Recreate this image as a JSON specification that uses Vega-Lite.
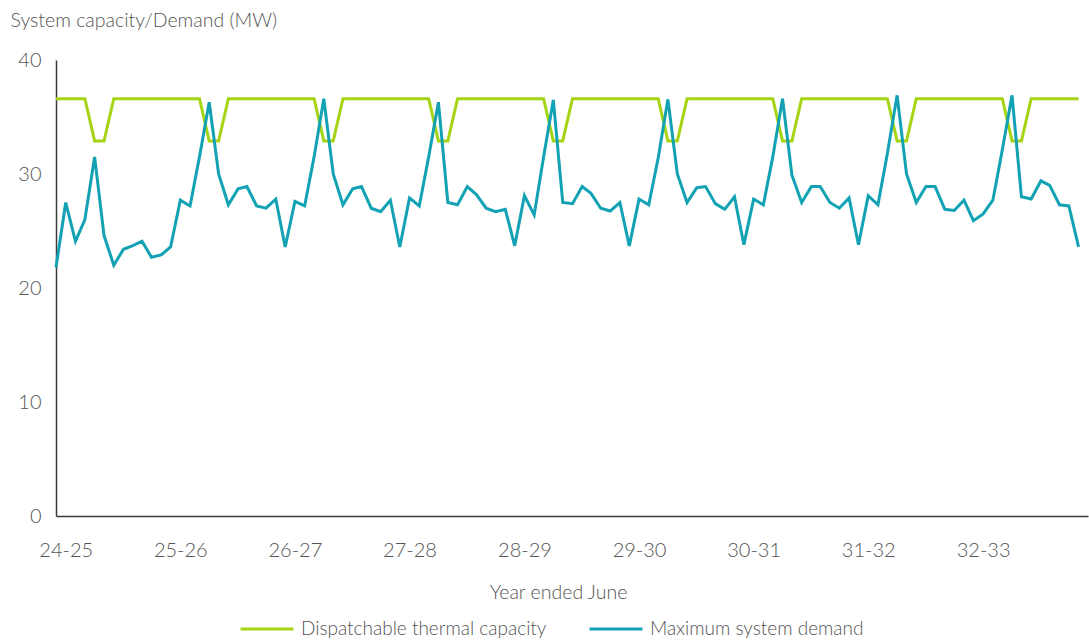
{
  "$schema": "https://vega.github.io/schema/vega-lite/v6.json",
  "width": 1032,
  "height": 456,
  "autosize": {"type": "none"},
  "padding": {"left": 56, "top": 60, "right": 1, "bottom": 125},
  "background": "white",
  "config": {
    "font": "Lato",
    "view": {"stroke": null},
    "axis": {
      "grid": false,
      "ticks": false,
      "domainColor": "#3a3a3a",
      "domainWidth": 1.5,
      "labelFont": "Lato",
      "labelFontSize": 20,
      "labelFontWeight": 300,
      "labelColor": "#555555",
      "titleFont": "Lato",
      "titleFontSize": 19.5,
      "titleFontWeight": 300,
      "titleColor": "#555555"
    },
    "legend": {
      "labelFont": "Lato",
      "labelFontSize": 19,
      "labelFontWeight": 300,
      "labelColor": "#555555"
    }
  },
  "data": {
    "values": [
      {"month": "2024-07-01", "Dispatchable thermal capacity": 36.6, "Maximum system demand": 21.8},
      {"month": "2024-08-01", "Dispatchable thermal capacity": 36.6, "Maximum system demand": 27.5},
      {"month": "2024-09-01", "Dispatchable thermal capacity": 36.6, "Maximum system demand": 24.1},
      {"month": "2024-10-01", "Dispatchable thermal capacity": 36.6, "Maximum system demand": 26.0},
      {"month": "2024-11-01", "Dispatchable thermal capacity": 32.9, "Maximum system demand": 31.5},
      {"month": "2024-12-01", "Dispatchable thermal capacity": 32.9, "Maximum system demand": 24.6},
      {"month": "2025-01-01", "Dispatchable thermal capacity": 36.6, "Maximum system demand": 22.0},
      {"month": "2025-02-01", "Dispatchable thermal capacity": 36.6, "Maximum system demand": 23.4},
      {"month": "2025-03-01", "Dispatchable thermal capacity": 36.6, "Maximum system demand": 23.7},
      {"month": "2025-04-01", "Dispatchable thermal capacity": 36.6, "Maximum system demand": 24.1},
      {"month": "2025-05-01", "Dispatchable thermal capacity": 36.6, "Maximum system demand": 22.7},
      {"month": "2025-06-01", "Dispatchable thermal capacity": 36.6, "Maximum system demand": 22.9},
      {"month": "2025-07-01", "Dispatchable thermal capacity": 36.6, "Maximum system demand": 23.6},
      {"month": "2025-08-01", "Dispatchable thermal capacity": 36.6, "Maximum system demand": 27.7},
      {"month": "2025-09-01", "Dispatchable thermal capacity": 36.6, "Maximum system demand": 27.2},
      {"month": "2025-10-01", "Dispatchable thermal capacity": 36.6, "Maximum system demand": 31.5},
      {"month": "2025-11-01", "Dispatchable thermal capacity": 32.9, "Maximum system demand": 36.3},
      {"month": "2025-12-01", "Dispatchable thermal capacity": 32.9, "Maximum system demand": 30.0},
      {"month": "2026-01-01", "Dispatchable thermal capacity": 36.6, "Maximum system demand": 27.3},
      {"month": "2026-02-01", "Dispatchable thermal capacity": 36.6, "Maximum system demand": 28.7},
      {"month": "2026-03-01", "Dispatchable thermal capacity": 36.6, "Maximum system demand": 28.9},
      {"month": "2026-04-01", "Dispatchable thermal capacity": 36.6, "Maximum system demand": 27.2},
      {"month": "2026-05-01", "Dispatchable thermal capacity": 36.6, "Maximum system demand": 27.0},
      {"month": "2026-06-01", "Dispatchable thermal capacity": 36.6, "Maximum system demand": 27.8},
      {"month": "2026-07-01", "Dispatchable thermal capacity": 36.6, "Maximum system demand": 23.6},
      {"month": "2026-08-01", "Dispatchable thermal capacity": 36.6, "Maximum system demand": 27.6},
      {"month": "2026-09-01", "Dispatchable thermal capacity": 36.6, "Maximum system demand": 27.2},
      {"month": "2026-10-01", "Dispatchable thermal capacity": 36.6, "Maximum system demand": 31.5},
      {"month": "2026-11-01", "Dispatchable thermal capacity": 32.9, "Maximum system demand": 36.6},
      {"month": "2026-12-01", "Dispatchable thermal capacity": 32.9, "Maximum system demand": 30.0},
      {"month": "2027-01-01", "Dispatchable thermal capacity": 36.6, "Maximum system demand": 27.3},
      {"month": "2027-02-01", "Dispatchable thermal capacity": 36.6, "Maximum system demand": 28.7},
      {"month": "2027-03-01", "Dispatchable thermal capacity": 36.6, "Maximum system demand": 28.9},
      {"month": "2027-04-01", "Dispatchable thermal capacity": 36.6, "Maximum system demand": 27.0},
      {"month": "2027-05-01", "Dispatchable thermal capacity": 36.6, "Maximum system demand": 26.7},
      {"month": "2027-06-01", "Dispatchable thermal capacity": 36.6, "Maximum system demand": 27.7},
      {"month": "2027-07-01", "Dispatchable thermal capacity": 36.6, "Maximum system demand": 23.6},
      {"month": "2027-08-01", "Dispatchable thermal capacity": 36.6, "Maximum system demand": 27.9},
      {"month": "2027-09-01", "Dispatchable thermal capacity": 36.6, "Maximum system demand": 27.2},
      {"month": "2027-10-01", "Dispatchable thermal capacity": 36.6, "Maximum system demand": 31.5},
      {"month": "2027-11-01", "Dispatchable thermal capacity": 32.9, "Maximum system demand": 36.3},
      {"month": "2027-12-01", "Dispatchable thermal capacity": 32.9, "Maximum system demand": 27.5},
      {"month": "2028-01-01", "Dispatchable thermal capacity": 36.6, "Maximum system demand": 27.3},
      {"month": "2028-02-01", "Dispatchable thermal capacity": 36.6, "Maximum system demand": 28.9},
      {"month": "2028-03-01", "Dispatchable thermal capacity": 36.6, "Maximum system demand": 28.2},
      {"month": "2028-04-01", "Dispatchable thermal capacity": 36.6, "Maximum system demand": 27.0},
      {"month": "2028-05-01", "Dispatchable thermal capacity": 36.6, "Maximum system demand": 26.7},
      {"month": "2028-06-01", "Dispatchable thermal capacity": 36.6, "Maximum system demand": 26.9},
      {"month": "2028-07-01", "Dispatchable thermal capacity": 36.6, "Maximum system demand": 23.7},
      {"month": "2028-08-01", "Dispatchable thermal capacity": 36.6, "Maximum system demand": 28.1},
      {"month": "2028-09-01", "Dispatchable thermal capacity": 36.6, "Maximum system demand": 26.4},
      {"month": "2028-10-01", "Dispatchable thermal capacity": 36.6, "Maximum system demand": 31.5},
      {"month": "2028-11-01", "Dispatchable thermal capacity": 32.9, "Maximum system demand": 36.5},
      {"month": "2028-12-01", "Dispatchable thermal capacity": 32.9, "Maximum system demand": 27.5},
      {"month": "2029-01-01", "Dispatchable thermal capacity": 36.6, "Maximum system demand": 27.4},
      {"month": "2029-02-01", "Dispatchable thermal capacity": 36.6, "Maximum system demand": 28.9},
      {"month": "2029-03-01", "Dispatchable thermal capacity": 36.6, "Maximum system demand": 28.3},
      {"month": "2029-04-01", "Dispatchable thermal capacity": 36.6, "Maximum system demand": 27.0},
      {"month": "2029-05-01", "Dispatchable thermal capacity": 36.6, "Maximum system demand": 26.75},
      {"month": "2029-06-01", "Dispatchable thermal capacity": 36.6, "Maximum system demand": 27.5},
      {"month": "2029-07-01", "Dispatchable thermal capacity": 36.6, "Maximum system demand": 23.7},
      {"month": "2029-08-01", "Dispatchable thermal capacity": 36.6, "Maximum system demand": 27.8},
      {"month": "2029-09-01", "Dispatchable thermal capacity": 36.6, "Maximum system demand": 27.3},
      {"month": "2029-10-01", "Dispatchable thermal capacity": 36.6, "Maximum system demand": 31.4},
      {"month": "2029-11-01", "Dispatchable thermal capacity": 32.9, "Maximum system demand": 36.55},
      {"month": "2029-12-01", "Dispatchable thermal capacity": 32.9, "Maximum system demand": 30.0},
      {"month": "2030-01-01", "Dispatchable thermal capacity": 36.6, "Maximum system demand": 27.5},
      {"month": "2030-02-01", "Dispatchable thermal capacity": 36.6, "Maximum system demand": 28.8},
      {"month": "2030-03-01", "Dispatchable thermal capacity": 36.6, "Maximum system demand": 28.9},
      {"month": "2030-04-01", "Dispatchable thermal capacity": 36.6, "Maximum system demand": 27.4},
      {"month": "2030-05-01", "Dispatchable thermal capacity": 36.6, "Maximum system demand": 26.9},
      {"month": "2030-06-01", "Dispatchable thermal capacity": 36.6, "Maximum system demand": 28.0},
      {"month": "2030-07-01", "Dispatchable thermal capacity": 36.6, "Maximum system demand": 23.8},
      {"month": "2030-08-01", "Dispatchable thermal capacity": 36.6, "Maximum system demand": 27.8},
      {"month": "2030-09-01", "Dispatchable thermal capacity": 36.6, "Maximum system demand": 27.3},
      {"month": "2030-10-01", "Dispatchable thermal capacity": 36.6, "Maximum system demand": 31.5},
      {"month": "2030-11-01", "Dispatchable thermal capacity": 32.9, "Maximum system demand": 36.6},
      {"month": "2030-12-01", "Dispatchable thermal capacity": 32.9, "Maximum system demand": 29.9},
      {"month": "2031-01-01", "Dispatchable thermal capacity": 36.6, "Maximum system demand": 27.5},
      {"month": "2031-02-01", "Dispatchable thermal capacity": 36.6, "Maximum system demand": 28.9},
      {"month": "2031-03-01", "Dispatchable thermal capacity": 36.6, "Maximum system demand": 28.9},
      {"month": "2031-04-01", "Dispatchable thermal capacity": 36.6, "Maximum system demand": 27.5},
      {"month": "2031-05-01", "Dispatchable thermal capacity": 36.6, "Maximum system demand": 27.0},
      {"month": "2031-06-01", "Dispatchable thermal capacity": 36.6, "Maximum system demand": 27.9},
      {"month": "2031-07-01", "Dispatchable thermal capacity": 36.6, "Maximum system demand": 23.8},
      {"month": "2031-08-01", "Dispatchable thermal capacity": 36.6, "Maximum system demand": 28.1},
      {"month": "2031-09-01", "Dispatchable thermal capacity": 36.6, "Maximum system demand": 27.3},
      {"month": "2031-10-01", "Dispatchable thermal capacity": 36.6, "Maximum system demand": 31.8},
      {"month": "2031-11-01", "Dispatchable thermal capacity": 32.9, "Maximum system demand": 36.9},
      {"month": "2031-12-01", "Dispatchable thermal capacity": 32.9, "Maximum system demand": 30.0},
      {"month": "2032-01-01", "Dispatchable thermal capacity": 36.6, "Maximum system demand": 27.5},
      {"month": "2032-02-01", "Dispatchable thermal capacity": 36.6, "Maximum system demand": 28.9},
      {"month": "2032-03-01", "Dispatchable thermal capacity": 36.6, "Maximum system demand": 28.9},
      {"month": "2032-04-01", "Dispatchable thermal capacity": 36.6, "Maximum system demand": 26.9},
      {"month": "2032-05-01", "Dispatchable thermal capacity": 36.6, "Maximum system demand": 26.8},
      {"month": "2032-06-01", "Dispatchable thermal capacity": 36.6, "Maximum system demand": 27.7},
      {"month": "2032-07-01", "Dispatchable thermal capacity": 36.6, "Maximum system demand": 25.9},
      {"month": "2032-08-01", "Dispatchable thermal capacity": 36.6, "Maximum system demand": 26.5},
      {"month": "2032-09-01", "Dispatchable thermal capacity": 36.6, "Maximum system demand": 27.7},
      {"month": "2032-10-01", "Dispatchable thermal capacity": 36.6, "Maximum system demand": 32.1},
      {"month": "2032-11-01", "Dispatchable thermal capacity": 32.9, "Maximum system demand": 36.9},
      {"month": "2032-12-01", "Dispatchable thermal capacity": 32.9, "Maximum system demand": 28.0},
      {"month": "2033-01-01", "Dispatchable thermal capacity": 36.6, "Maximum system demand": 27.8},
      {"month": "2033-02-01", "Dispatchable thermal capacity": 36.6, "Maximum system demand": 29.4},
      {"month": "2033-03-01", "Dispatchable thermal capacity": 36.6, "Maximum system demand": 29.0},
      {"month": "2033-04-01", "Dispatchable thermal capacity": 36.6, "Maximum system demand": 27.3},
      {"month": "2033-05-01", "Dispatchable thermal capacity": 36.6, "Maximum system demand": 27.2},
      {"month": "2033-06-01", "Dispatchable thermal capacity": 36.6, "Maximum system demand": 23.6}
    ]
  },
  "transform": [
    {"fold": ["Dispatchable thermal capacity", "Maximum system demand"], "as": ["series", "value"]}
  ],
  "mark": {"type": "line", "strokeWidth": 3},
  "encoding": {
    "x": {
      "field": "month",
      "type": "temporal",
      "scale": {
        "type": "utc",
        "domain": [
          {"year": 2024, "month": 7, "date": 1, "utc": true},
          {"year": 2033, "month": 7, "date": 1, "utc": true}
        ]
      },
      "axis": {
        "title": "Year ended June",
        "values": [
          {"year": 2024, "month": 8, "date": 1, "utc": true},
          {"year": 2025, "month": 8, "date": 1, "utc": true},
          {"year": 2026, "month": 8, "date": 1, "utc": true},
          {"year": 2027, "month": 8, "date": 1, "utc": true},
          {"year": 2028, "month": 8, "date": 1, "utc": true},
          {"year": 2029, "month": 8, "date": 1, "utc": true},
          {"year": 2030, "month": 8, "date": 1, "utc": true},
          {"year": 2031, "month": 8, "date": 1, "utc": true},
          {"year": 2032, "month": 8, "date": 1, "utc": true}
        ],
        "labelExpr": "(utcyear(datum.value) % 100) + '-' + (utcyear(datum.value) % 100 + 1)",
        "labelPadding": 24,
        "labelFlush": false,
        "labelOverlap": false,
        "titleX": 502,
        "titleY": 82,
        "titleAlign": "center",
        "titleBaseline": "alphabetic"
      }
    },
    "y": {
      "field": "value",
      "type": "quantitative",
      "scale": {"domain": [0, 40]},
      "axis": {
        "title": "System capacity/Demand (MW)",
        "values": [0, 10, 20, 30, 40],
        "labelPadding": 15,
        "titleAngle": 0,
        "titleAlign": "left",
        "titleBaseline": "alphabetic",
        "titleX": -46,
        "titleY": -34
      }
    },
    "color": {
      "field": "series",
      "type": "nominal",
      "scale": {
        "domain": ["Dispatchable thermal capacity", "Maximum system demand"],
        "range": ["#A5D414", "#12A2B3"]
      },
      "legend": {
        "title": null,
        "orient": "none",
        "direction": "horizontal",
        "legendX": 183,
        "legendY": 541,
        "symbolType": "stroke",
        "symbolSize": 2809,
        "symbolStrokeWidth": 3,
        "labelOffset": 6,
        "columnPadding": 36,
        "labelLimit": 400
      }
    }
  }
}
